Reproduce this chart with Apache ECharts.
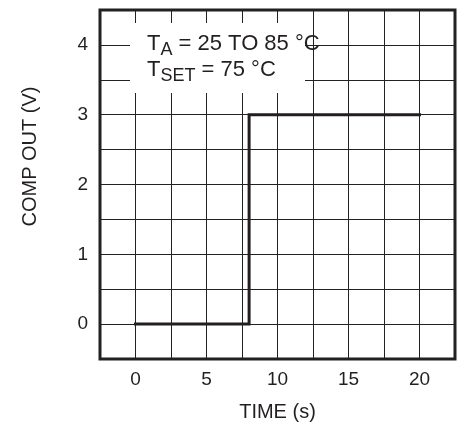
<!DOCTYPE html>
<html>
<head>
<meta charset="utf-8">
<script src="https://cdn.jsdelivr.net/npm/echarts@6/dist/echarts.min.js"></script>
<style>
html,body{margin:0;padding:0;background:#fff;}
#chart{width:461px;height:427px;}
</style>
</head>
<body>
<div id="chart"></div>
<script>
// Data
var timeS = [0, 8, 8, 20];
var compOutV = [0, 0, 3, 3];
var xTickLabels = [0, 5, 10, 15, 20];
var yTickLabels = [0, 1, 2, 3, 4];

var FONT = '"Liberation Sans", Arial, Helvetica, sans-serif';
var INK = '#231f20';

var chart = echarts.init(document.getElementById('chart'), null, {renderer: 'canvas'});
var option = {
  animation: false,
  backgroundColor: '#fff',
  grid: {
    left: 100, right: 6, top: 10, bottom: 67,
    show: true, borderColor: INK, borderWidth: 3, backgroundColor: 'transparent'
  },
  xAxis: {
    type: 'value', min: -2.5, max: 22.5, interval: 2.5,
    axisLine: {show: false}, axisTick: {show: false},
    splitLine: {show: true, lineStyle: {color: '#222', width: 1}},
    axisLabel: {
      margin: 11, color: INK, fontFamily: FONT, fontSize: 19,
      formatter: function (v) { return xTickLabels.indexOf(v) >= 0 ? String(v) : ''; }
    },
    name: 'TIME (s)', nameLocation: 'middle', nameGap: 43,
    nameTextStyle: {color: INK, fontFamily: FONT, fontSize: 20}
  },
  yAxis: {
    type: 'value', min: -0.5, max: 4.5, interval: 0.5,
    axisLine: {show: false}, axisTick: {show: false},
    splitLine: {show: true, lineStyle: {color: '#222', width: 1}},
    axisLabel: {
      margin: 12, color: INK, fontFamily: FONT, fontSize: 19,
      formatter: function (v) { return yTickLabels.indexOf(v) >= 0 ? String(v) : ''; }
    },
    name: 'COMP OUT (V)', nameLocation: 'middle', nameGap: 60,
    nameTextStyle: {color: INK, fontFamily: FONT, fontSize: 20, padding: [0, 0, 0, 56]}
  },
  series: [{
    type: 'line',
    data: timeS.map(function (t, i) { return [t, compOutV[i]]; }),
    showSymbol: false, symbol: 'none',
    lineStyle: {color: INK, width: 3, join: 'miter', cap: 'square'},
    z: 5
  }],
  graphic: [
    {type: 'rect', left: 130, top: 23, shape: {width: 175, height: 70}, style: {fill: '#fff'}, z: 10},
    {
      type: 'text', left: 147, top: 33, z: 11,
      style: {
        text: '{m|T}{s|A}{m| = 25 TO 85 °C}\n{m|T}{s|SET}{m| = 75 °C}',
        rich: {
          m: {fontFamily: FONT, fontSize: 22, lineHeight: 22, verticalAlign: 'top', fill: INK, color: INK},
          s: {fontFamily: FONT, fontSize: 18, lineHeight: 26, padding: [8, 0, 0, 0], verticalAlign: 'top', fill: INK, color: INK}
        }
      }
    }
  ]
};
chart.setOption(option);
</script>
</body>
</html>
